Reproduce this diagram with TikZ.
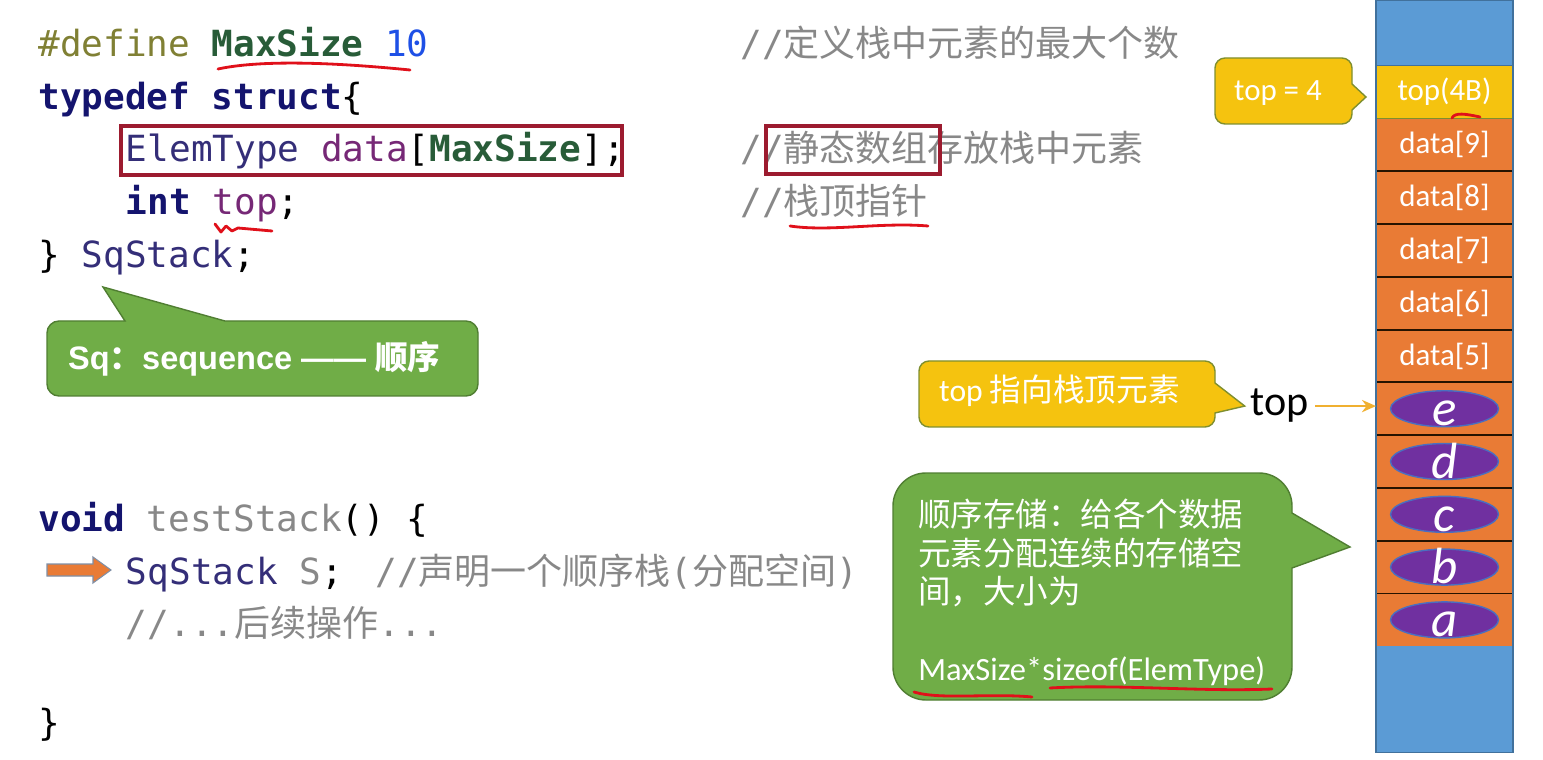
\documentclass[tikz,border=0pt]{standalone}
\usepackage{fontspec}
\setmainfont{Carlito}
\setmonofont{DejaVu Sans Mono}
\newfontfamily\cjk{Noto Sans CJK SC}
\newfontfamily\sqfont{Liberation Sans}
\usetikzlibrary{positioning,arrows.meta,shapes.geometric}

\definecolor{defolive}{RGB}{128,128,52}
\definecolor{macgreen}{RGB}{40,92,56}
\definecolor{numblue}{RGB}{30,80,230}
\definecolor{kwnavy}{RGB}{20,20,110}
\definecolor{typblue}{RGB}{52,46,120}
\definecolor{fldpurple}{RGB}{118,40,118}
\definecolor{cmtgray}{RGB}{136,136,136}
\definecolor{stackblue}{HTML}{5B9BD5}
\definecolor{stackgold}{HTML}{F5C30F}
\definecolor{stackorange}{HTML}{E97B35}
\definecolor{stackedge}{HTML}{41719C}
\definecolor{elempurple}{HTML}{7030A0}
\definecolor{elemedge}{HTML}{4A6FC0}
\definecolor{bubblegreen}{HTML}{70AD47}
\definecolor{bubbleedge}{HTML}{507E32}
\definecolor{goldedge}{HTML}{7F8F2F}
\definecolor{ptrgold}{HTML}{F0B030}
\definecolor{arrowedge}{HTML}{7F8FA6}
\definecolor{boxred}{HTML}{9C1B2F}
\definecolor{markred}{HTML}{E0101A}

\newcommand{\cdef}[1]{\textcolor{defolive}{#1}}
\newcommand{\cmac}[1]{\textcolor{macgreen}{\bfseries #1}}
\newcommand{\cnum}[1]{\textcolor{numblue}{#1}}
\newcommand{\ckw}[1]{\textcolor{kwnavy}{\bfseries #1}}
\newcommand{\ctyp}[1]{\textcolor{typblue}{#1}}
\newcommand{\cfld}[1]{\textcolor{fldpurple}{#1}}
\newcommand{\ccmt}[1]{\textcolor{cmtgray}{#1}}

\begin{document}
\begin{tikzpicture}[
    x=0.02cm, y=-0.02cm,
    code/.style={anchor=base west, inner sep=0pt, font=\ttfamily\fontsize{20.5}{24}\selectfont},
    cell/.style={minimum width=2.74cm, minimum height=1.056cm, inner sep=0pt, outer sep=0pt, text=white, font=\fontsize{17.6}{20}\selectfont},
    elem/.style={ellipse, fill=elempurple, draw=elemedge, line width=0.8pt, minimum width=2.16cm, minimum height=0.72cm, inner sep=0pt},
    letter/.style={anchor=base, inner sep=0pt, text=white, font=\itshape\fontsize{29}{30}\selectfont},
    greenbubble/.style={fill=bubblegreen, draw=bubbleedge, line width=0.8pt},
    yellowbubble/.style={fill=stackgold, draw=goldedge, line width=0.8pt},
    redbox/.style={draw=boxred, line width=2pt},
    scribble/.style={draw=markred, line width=1.6pt, line cap=round, line join=round},
    ptr/.style={-{Stealth[length=8pt,width=7pt]}, draw=ptrgold, line width=1.2pt}
]
\useasboundingbox (0,0) rectangle (1543,760);

% -------- Struct --------
\node[code] (ln1) at (38,57) {\cdef{\#define} \cmac{MaxSize} \cnum{10}};
\node[code] (ln2) at (38,110) {\ckw{typedef} \ckw{struct}\{};
\node[code] (ln3) at (125.6,162) {\ctyp{ElemType} \cfld{data}[\cmac{MaxSize}];};
\node[code] (ln4) at (125.6,215) {\ckw{int} \cfld{top};};
\node[code] (ln5) at (38,268) {\} \ctyp{SqStack};};

\node[code] (cm1) at (740,57) {\ccmt{//{\cjk 定义栈中元素的最大个数}}};
\node[code] (cm3) at (740,162) {\ccmt{//{\cjk 静态数组存放栈中元素}}};
\node[code] (cm4) at (740,215) {\ccmt{//{\cjk 栈顶指针}}};

\draw[redbox] (121,126) rectangle (622,175);
\draw[redbox] (766,126) rectangle (940,174);

% -------- Function --------
\node[code] (fn1) at (38,531) {\ckw{void} \ccmt{testStack}() \{};
\node[code] (fn2) at (125.6,584) {\ctyp{SqStack} \ccmt{S};};
\node[code] (cm5) at (375,584) {\ccmt{//{\cjk 声明一个顺序栈}({\cjk 分配空间})}};
\node[code] (fn3) at (125.6,636) {\ccmt{//...{\cjk 后续操作}...}};
\node[code] (fn4) at (38,735) {\}};

\draw[fill=stackorange, draw=arrowedge, line width=0.6pt]
    (47,564) -- (93,564) -- (93,557) -- (111,570) -- (93,583) -- (93,576) -- (47,576) -- cycle;

% -------- Stack --------
\node[cell, fill=stackgold] (celltop) at (1444.5,92) {top(4B)};
\node[cell, fill=stackblue, minimum height=1.312cm, above=0pt of celltop] (spacetop) {};
\foreach \i [remember=\i as \prev (initially top)] in {9,...,0} {
    \node[cell, fill=stackorange, below=0pt of cell\prev] (cell\i) {\ifnum\i>4 data[\i]\fi};
}
\node[cell, fill=stackblue, minimum height=2.12cm, below=0pt of cell0] (spacebot) {};

\draw[stackedge, line width=0.6pt] (spacetop.south west) -- (spacetop.south east);
\draw[goldedge, line width=1pt] (celltop.south west) -- (celltop.south east);
\foreach \i in {9,...,1}
    \draw[black!85!orange, line width=1.1pt] (cell\i.south west) -- (cell\i.south east);
\draw[stackedge, line width=0.8pt] (spacetop.north west) rectangle (spacebot.south east);

\foreach \i/\ch in {4/e,3/d,2/c,1/b,0/a} {
    \node[elem] (elem\i) at (cell\i) {};
    \node[letter] (let\i) at ([yshift=-9.5pt]elem\i.center) {\ch};
}

% -------- Notes --------
\draw[greenbubble] (47,360) [rounded corners=0.24cm] -- (47,321) [sharp corners] -- (125,321)
    -- (103,287) -- (225,321) [rounded corners=0.24cm] -- (478,321) -- (478,396) -- (47,396) -- cycle;
\node[anchor=base west, text=white, font=\sqfont\bfseries\fontsize{18.5}{20}\selectfont] (sqnote)
    at (62,370) {Sq{\cjk\bfseries ：}sequence —— {\cjk\bfseries 顺序}};

\draw[yellowbubble] (1215,90) [rounded corners=0.2cm] -- (1215,58) -- (1352,58) [sharp corners] -- (1352,84)
    -- (1366,97) -- (1352,110) [rounded corners=0.2cm] -- (1352,124) -- (1215,124) -- cycle;
\node[text=white, font=\fontsize{17.6}{20}\selectfont] (topval) at (1278,93) {top = 4};

\node[anchor=base, font=\fontsize{24}{26}\selectfont] (toplabel) at (1280,416) {top};
\draw[ptr] (toplabel.east) -- (toplabel.east -| cell4.west);

\draw[yellowbubble] (919,394) [rounded corners=0.2cm] -- (919,361) -- (1215,361) [sharp corners] -- (1215,383)
    -- (toplabel.west) -- (1215,413) [rounded corners=0.2cm] -- (1215,427) -- (919,427) -- cycle;
\node[anchor=base west, text=white, font=\fontsize{18}{20}\selectfont] (topnote)
    at (933,401) {top {\cjk 指向栈顶元素}};

\draw[greenbubble] (893,590) [rounded corners=0.66cm] -- (893,473) -- (1292,473) [sharp corners] -- (1292,513)
    -- (1350,547) -- (1292,568) [rounded corners=0.66cm] -- (1292,700) -- (893,700) -- cycle;
\node[anchor=north west, align=left, inner sep=0pt, text=white, font=\fontsize{18.5}{21.8}\selectfont] (storenote)
    at (918,499) {{\cjk 顺序存储：给各个数据}\\{\cjk 元素分配连续的存储空}\\{\cjk 间，大小为}\\[21.8pt]MaxSize*sizeof(ElemType)};

% -------- Marks --------
\draw[scribble] (218,69) .. controls (260,60) and (330,62) .. (410,70);
\draw[scribble] (215,224) -- (221,232) -- (226,226) -- (232,231) -- (238,228) -- (272,231);
\draw[scribble] (790,226) .. controls (830,232) and (880,222) .. (928,226);
\draw[scribble] (1452,118) .. controls (1455,112) and (1466,114) .. (1480,117);
\draw[scribble] (914,692) .. controls (940,700) and (990,693) .. (1032,697);
\draw[scribble] (1050,688) .. controls (1120,684) and (1200,692) .. (1272,689);

\end{tikzpicture}
\end{document}
